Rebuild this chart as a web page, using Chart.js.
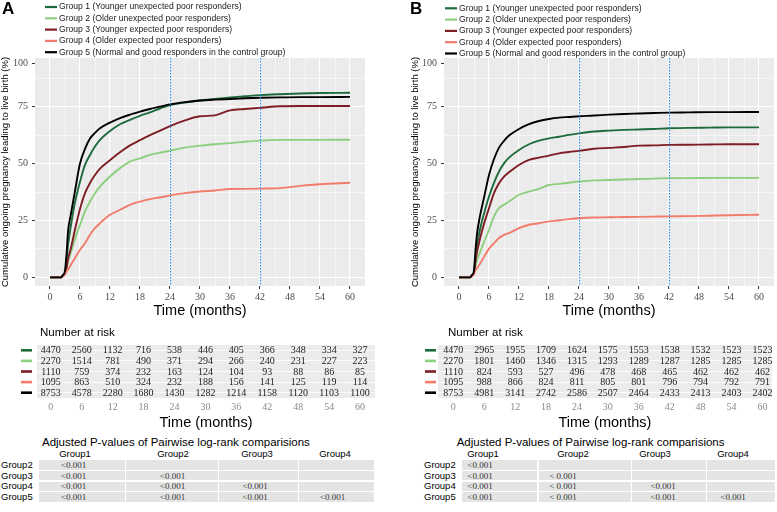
<!DOCTYPE html>
<html>
<head>
<meta charset="utf-8">
<script src="https://cdn.jsdelivr.net/npm/chart.js@4.4.1/dist/chart.umd.min.js"></script>
<style>
html, body { margin: 0; padding: 0; background: #fff; }
#wrap { position: relative; width: 777px; height: 512px; overflow: hidden; font-family: "Liberation Sans", Arial, sans-serif; }
canvas { position: absolute; }
.t { position: absolute; white-space: nowrap; line-height: 1; }
.cell { position: absolute; background: #e4e4e4; }
</style>
</head>
<body>
<div id="wrap">
  <canvas id="mainA" width="390" height="320" style="left:0;top:0"></canvas>
  <canvas id="riskA" width="390" height="112" style="left:0;top:320px"></canvas>
  <canvas id="mainB" width="387" height="320" style="left:390px;top:0"></canvas>
  <canvas id="riskB" width="387" height="112" style="left:390px;top:320px"></canvas>
</div>
<script>
// groups
const groupNames = [
  'Group 1 (Younger unexpected poor responders)',
  'Group 2 (Older unexpected poor responders)',
  'Group 3 (Younger expected poor responders)',
  'Group 4 (Older expected poor responders)',
  'Group 5 (Normal and good responders in the control group)'
]
const groupColors = ['#1d6b3c', '#8ccf7e', '#7f1d25', '#f37b6c', '#000000']

// cumulative curves (months -> %)
const months = [0, 2.2, 2.6, 3, 3.3, 3.6, 4.2, 5, 6, 7, 8, 9, 10, 12, 14, 16, 18, 20, 22, 24, 27, 30, 33, 36, 39, 42, 46, 50, 54, 60]

const cumA_g1 = [0, 0, 1, 2, 7, 14, 23, 33, 42, 49.4, 53.8, 57.5, 60.4, 64.3, 67.3, 69.2, 71, 72.5, 74.2, 75.7, 76.8, 77.7, 78.4, 79.1, 79.6, 80.1, 80.5, 80.8, 81, 81.1]
const cumA_g2 = [0, 0, 1, 2, 4, 7, 11, 17, 23, 29, 33.3, 37, 39.9, 44.3, 48, 50.9, 52.3, 53.8, 54.8, 55.7, 57, 57.9, 58.5, 59, 59.6, 60.1, 60.4, 60.4, 60.4, 60.5]
const cumA_g3 = [0, 0, 1, 2, 4, 8, 13, 21, 30, 37, 41.5, 45, 47.8, 51.5, 55, 58, 60.3, 62.5, 64.5, 66.5, 69, 70.8, 71.2, 73.4, 74, 74.5, 75.2, 75.3, 75.3, 75.3]
const cumA_g4 = [0, 0, 0.5, 1.2, 2.5, 3.4, 5.6, 8.5, 12.1, 15, 18.7, 21.6, 23.8, 27.5, 29.7, 31.9, 33.3, 34.4, 35.1, 36, 37, 37.7, 38.2, 38.8, 38.9, 39, 39.2, 40.2, 40.9, 41.6]
const cumA_g5 = [0, 0, 1, 3, 10, 20, 28, 38, 50, 56.5, 61, 63.5, 65.5, 68, 70, 71.5, 72.8, 74, 75, 76, 77, 77.7, 78.1, 78.4, 78.7, 78.9, 79.1, 79.2, 79.2, 79.3]

const cumB_g1 = [0, 0, 1, 2, 9, 14, 21, 28, 35.5, 41.5, 46.5, 50.1, 52.6, 56, 58.5, 60.1, 61.1, 61.8, 62.6, 63.3, 64.1, 64.5, 64.8, 65, 65.2, 65.5, 65.7, 65.8, 65.9, 65.9]
const cumB_g2 = [0, 0, 1, 2, 5, 7.5, 11, 15.5, 20.9, 26.8, 30.4, 31.9, 33.3, 36.3, 37.7, 38.9, 40.6, 41.1, 41.6, 42.1, 42.6, 42.8, 43, 43.2, 43.4, 43.6, 43.6, 43.7, 43.7, 43.7]
const cumB_g3 = [0, 0, 1, 2, 7, 11, 17, 23.5, 30.4, 37, 41.4, 44.3, 46.2, 49.4, 51.6, 52.6, 53.5, 54.5, 55.1, 55.6, 56.5, 56.9, 57.3, 57.9, 58, 58.2, 58.3, 58.4, 58.5, 58.5]
const cumB_g4 = [0, 0, 0.4, 1.5, 3, 4, 6, 9, 12.6, 15, 17.3, 18.7, 19.4, 21.6, 23.1, 23.8, 24.6, 25.1, 25.6, 26, 26.3, 26.4, 26.5, 26.6, 26.7, 26.8, 26.9, 27.1, 27.3, 27.5]
const cumB_g5 = [0, 0, 1, 3, 12, 19, 27, 35, 45, 52, 57, 60, 62.3, 65.2, 67.3, 68.7, 69.6, 70.2, 70.5, 70.8, 71.1, 71.5, 71.8, 72, 72.2, 72.4, 72.5, 72.6, 72.6, 72.7]

// axis ticks
const xMajorTicks = [0, 6, 12, 18, 24, 30, 36, 42, 48, 54, 60]
const xMinorTicks = [3, 9, 15, 21, 27, 33, 39, 45, 51, 57]
const yMajorTicks = [0, 25, 50, 75]
const yMinorTicks = [12.5, 37.5, 62.5, 87.5]
const yTopTick = 94   // the "100" label sits here in the original figure
const yTopLabel = '100'
const markTimes = [24, 42]

// number at risk
const riskTimes = [0, 6, 12, 18, 24, 30, 36, 42, 48, 54, 60]
const riskA_g1 = [4470, 2560, 1132, 716, 538, 446, 405, 366, 348, 334, 327]
const riskA_g2 = [2270, 1514, 781, 490, 371, 294, 266, 240, 231, 227, 223]
const riskA_g3 = [1110, 759, 374, 232, 163, 124, 104, 93, 88, 86, 85]
const riskA_g4 = [1095, 863, 510, 324, 232, 188, 156, 141, 125, 119, 114]
const riskA_g5 = [8753, 4578, 2280, 1680, 1430, 1282, 1214, 1158, 1120, 1103, 1100]
const riskB_g1 = [4470, 2965, 1955, 1709, 1624, 1575, 1553, 1538, 1532, 1523, 1523]
const riskB_g2 = [2270, 1801, 1460, 1346, 1315, 1293, 1289, 1287, 1285, 1285, 1285]
const riskB_g3 = [1110, 824, 593, 527, 496, 478, 468, 465, 462, 462, 462]
const riskB_g4 = [1095, 988, 866, 824, 811, 805, 801, 796, 794, 792, 791]
const riskB_g5 = [8753, 4981, 3141, 2742, 2586, 2507, 2464, 2433, 2413, 2403, 2402]

// pairwise p-values
const pCols = ['Group1', 'Group2', 'Group3', 'Group4']
const pRows = ['Group2', 'Group3', 'Group4', 'Group5']
const pValsA = [
  ['<0.001', '', '', ''],
  ['<0.001', '<0.001', '', ''],
  ['<0.001', '<0.001', '<0.001', ''],
  ['<0.001', '<0.001', '<0.001', '<0.001']
]
const pValsB = [
  ['<0.001', '', '', ''],
  ['<0.001', '< 0.001', '', ''],
  ['<0.001', '< 0.001', '<0.001', ''],
  ['<0.001', '< 0.001', '<0.001', '<0.001']
]

const SERIF = '"Liberation Serif", "DejaVu Serif", "Times New Roman", serif'
Chart.defaults.font.family = '"Liberation Sans", Arial, sans-serif'

const riskRows = {
  riskA: [riskA_g1, riskA_g2, riskA_g3, riskA_g4, riskA_g5],
  riskB: [riskB_g1, riskB_g2, riskB_g3, riskB_g4, riskB_g5]
}

const deco = {
  id: 'deco',
  beforeDraw(chart) {
    const a = chart.chartArea, c = chart.ctx
    c.save()
    c.fillStyle = '#ebebeb'
    c.fillRect(a.left, a.top, a.right - a.left, a.bottom - a.top)
    c.restore()
  },
  afterDatasetsDraw(chart, args, o) {
    if (o.kind !== 'main') return
    const a = chart.chartArea, c = chart.ctx, x = chart.scales.x
    c.save()
    c.strokeStyle = '#1f8ef0'
    c.lineWidth = 1.1
    c.setLineDash([1.5, 1.5])
    markTimes.forEach(t => {
      const px = Math.round(x.getPixelForValue(t)) + 0.5
      c.beginPath(); c.moveTo(px, a.top); c.lineTo(px, a.bottom); c.stroke()
    })
    c.restore()
  },
  afterDraw(chart, args, o) {
    const c = chart.ctx
    c.save()
    c.textBaseline = 'middle'
    if (o.kind === 'main') {
      c.fillStyle = '#000'
      c.font = 'bold 17px "Liberation Sans"'
      c.fillText(o.letter, o.letterX, o.letterY)
      c.font = '8.6px "Liberation Sans"'
      groupNames.forEach((name, i) => {
        const y = o.legY + i * 11.3
        c.strokeStyle = groupColors[i]
        c.lineWidth = 2.2
        c.beginPath(); c.moveTo(o.legX, y); c.lineTo(o.legX + 12, y); c.stroke()
        c.fillStyle = '#1a1a1a'
        c.fillText(name, o.legX + 14, y)
      })
    } else {
      const x = chart.scales.x, y = chart.scales.y
      c.fillStyle = '#000'
      c.font = '11.5px "Liberation Sans"'
      c.fillText('Number at risk', o.titleX, 12.7)
      const rows = riskRows[chart.canvas.id]
      rows.forEach((vals, i) => {
        const py = y.getPixelForValue(i)
        c.strokeStyle = groupColors[i]
        c.lineWidth = 2.6
        c.beginPath(); c.moveTo(o.dashX, py); c.lineTo(o.dashX + 11, py); c.stroke()
        c.fillStyle = '#222'
        c.font = '10px ' + SERIF
        c.textAlign = 'center'
        vals.forEach((v, j) => c.fillText(String(v), x.getPixelForValue(riskTimes[j]), py + 0.5))
        c.textAlign = 'left'
      })
    }
    c.restore()
  }
}

const isMajorX = v => xMajorTicks.includes(v)
const isMajorY = v => yMajorTicks.includes(v)

function mainChart(id, series, lay) {
  return new Chart(document.getElementById(id), {
    type: 'line',
    data: {
      datasets: series.map((vals, i) => ({
        label: groupNames[i],
        data: vals.map((v, k) => ({ x: months[k], y: v })),
        borderColor: groupColors[i],
        borderWidth: 1.9,
        pointRadius: 0,
        cubicInterpolationMode: 'monotone',
        order: i === 4 ? 0 : 5 - i
      }))
    },
    options: {
      responsive: false,
      animation: false,
      layout: { padding: { top: 58, left: lay.padLeft, right: lay.padRight, bottom: 0 } },
      plugins: {
        legend: { display: false },
        tooltip: { enabled: false },
        deco: { kind: 'main', letter: lay.letter, letterX: lay.letterX, letterY: lay.letterY, legX: lay.legX, legY: lay.legY }
      },
      scales: {
        x: {
          type: 'linear',
          min: -3,
          max: 63,
          afterBuildTicks: s => { s.ticks = xMajorTicks.concat(xMinorTicks).sort((a, b) => a - b).map(v => ({ value: v })) },
          afterFit: s => { s.height = 34 },
          border: { display: false },
          grid: {
            color: '#ffffff',
            lineWidth: ctx => (ctx.tick && isMajorX(ctx.tick.value)) ? 1.1 : 0.55,
            tickLength: 3,
            tickWidth: 1,
            tickColor: ctx => (ctx.tick && isMajorX(ctx.tick.value)) ? '#333333' : 'rgba(0,0,0,0)'
          },
          ticks: {
            autoSkip: false,
            maxRotation: 0,
            padding: 2,
            color: '#4d4d4d',
            font: { family: SERIF, size: 10 },
            callback: v => isMajorX(v) ? String(v) : ''
          },
          title: { display: true, text: 'Time (months)', color: '#000', padding: 0, font: { size: 14.5 } }
        },
        y: {
          type: 'linear',
          min: -3.8,
          max: 96.4,
          afterBuildTicks: s => { s.ticks = yMajorTicks.concat(yMinorTicks, [yTopTick]).sort((a, b) => a - b).map(v => ({ value: v })) },
          afterFit: s => { s.width = lay.yAxisWidth },
          border: { display: false },
          grid: {
            color: ctx => (ctx.tick && ctx.tick.value === yTopTick) ? 'rgba(0,0,0,0)' : '#ffffff',
            lineWidth: ctx => (ctx.tick && isMajorY(ctx.tick.value)) ? 1.1 : 0.55,
            tickLength: 3,
            tickWidth: 1,
            tickColor: ctx => (ctx.tick && (isMajorY(ctx.tick.value) || ctx.tick.value === yTopTick)) ? '#333333' : 'rgba(0,0,0,0)'
          },
          ticks: {
            autoSkip: false,
            padding: 4,
            color: '#4d4d4d',
            font: { family: SERIF, size: 10 },
            callback: v => v === yTopTick ? yTopLabel : (isMajorY(v) ? String(v) : '')
          },
          title: { display: true, text: 'Cumulative ongoing pregnancy leading to live birth (%)', color: '#000', padding: 0, font: { size: 9.5 } }
        }
      }
    },
    plugins: [deco]
  })
}

function riskChart(id, lay) {
  return new Chart(document.getElementById(id), {
    type: 'line',
    data: { datasets: [] },
    options: {
      responsive: false,
      animation: false,
      layout: { padding: { top: 25, left: lay.padLeft, right: lay.padRight, bottom: 0 } },
      plugins: {
        legend: { display: false },
        tooltip: { enabled: false },
        deco: { kind: 'risk', titleX: lay.titleX, dashX: lay.dashX }
      },
      scales: {
        x: {
          type: 'linear',
          min: lay.min,
          max: lay.max,
          afterBuildTicks: s => { s.ticks = riskTimes.map(v => ({ value: v })) },
          afterFit: s => { s.height = 34 },
          border: { display: false },
          grid: { color: '#ffffff', lineWidth: 0.8, drawTicks: false },
          ticks: {
            autoSkip: false,
            maxRotation: 0,
            padding: 3,
            color: '#8a8a8a',
            font: { family: SERIF, size: 10 }
          },
          title: { display: true, text: 'Time (months)', color: '#000', padding: 0, font: { size: 14.5 } }
        },
        y: {
          type: 'category',
          labels: ['G1', 'G2', 'G3', 'G4', 'G5'],
          offset: true,
          afterFit: s => { s.width = 0 },
          border: { display: false },
          grid: { color: '#ffffff', lineWidth: 0.8, drawTicks: false, offset: false },
          ticks: { display: false }
        }
      }
    },
    plugins: [deco]
  })
}

function put(text, x, y, css, align) {
  const d = document.createElement('div')
  d.className = 't'
  d.textContent = text
  d.style.cssText += css
  d.style.left = x + 'px'
  d.style.top = y + 'px'
  d.style.transform = align === 'center' ? 'translate(-50%,-50%)' : 'translateY(-50%)'
  document.getElementById('wrap').appendChild(d)
}

function pTable(vals, L) {
  const wrap = document.getElementById('wrap')
  const sans = 'font-family:"Liberation Sans",Arial,sans-serif;color:#000;'
  put('Adjusted P-values of Pairwise log-rank comparisions', L.titleX, 443.3, sans + 'font-size:11.5px;')
  pCols.forEach((g, c) => put(g, L.hdr[c], 453.8, sans + 'font-size:9.5px;', 'center'))
  pRows.forEach((g, r) => {
    const cy = L.rowY[r]
    put(g, L.rowX, cy, sans + 'font-size:9.5px;')
    pCols.forEach((_, c) => {
      const cell = document.createElement('div')
      cell.className = 'cell'
      cell.style.left = (L.cols[c] + 0.5) + 'px'
      cell.style.width = (L.cols[c + 1] - L.cols[c] - 1) + 'px'
      cell.style.top = (cy - 4.8) + 'px'
      cell.style.height = '9.6px'
      wrap.appendChild(cell)
      if (vals[r][c]) put(vals[r][c], L.val[c], cy, 'font-family:' + SERIF + ';font-size:9px;color:#333;', 'center')
    })
  })
}

mainChart('mainA', [cumA_g1, cumA_g2, cumA_g3, cumA_g4, cumA_g5],
  { padLeft: 0, padRight: 25, yAxisWidth: 35, letter: 'A', letterX: 2, letterY: 9, legX: 45, legY: 7 })
mainChart('mainB', [cumB_g1, cumB_g2, cumB_g3, cumB_g4, cumB_g5],
  { padLeft: 20, padRight: 3, yAxisWidth: 34, letter: 'B', letterX: 20, letterY: 9, legX: 55, legY: 8.3 })

riskChart('riskA', { padLeft: 37, padRight: 15, min: -2.68, max: 62.9, titleX: 40, dashX: 21 })
riskChart('riskB', { padLeft: 48, padRight: 5.3, min: -2.97, max: 61.8, titleX: 58, dashX: 35 })

const rowYs = [465, 475.7, 486.3, 497]
pTable(pValsA, { titleX: 42, rowX: 1, rowY: rowYs, cols: [38.3, 125.7, 218.3, 298.3, 375], hdr: [75, 173, 257, 335], val: [73.5, 172.5, 255, 332.5] })
pTable(pValsB, { titleX: 456.7, rowX: 424, rowY: rowYs, cols: [461.7, 538, 631, 706, 775], hdr: [483, 573, 655, 733], val: [480, 563, 663, 733] })
</script>
</body>
</html>
